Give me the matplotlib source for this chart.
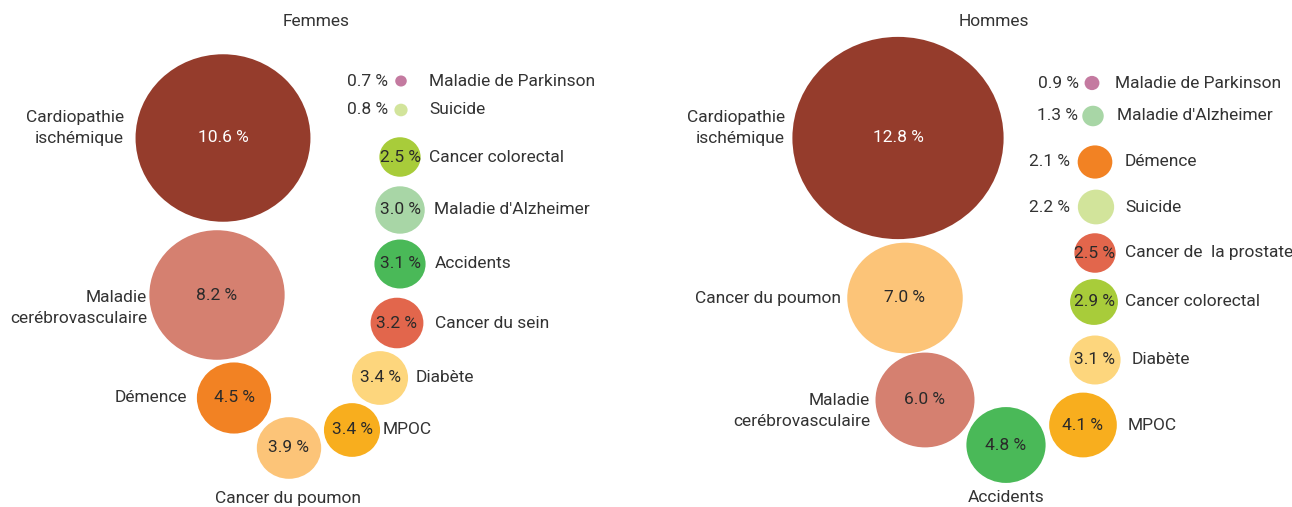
import matplotlib
matplotlib.use("Agg")
import matplotlib.pyplot as plt
from matplotlib.patches import Ellipse

plt.rcParams["font.family"] = ["Roboto", "DejaVu Sans"]

# Data: share of deaths (%) by cause
f_causes = ["Cardiopathie ischémique", "Maladie cerébrovasculaire", "Démence",
            "Cancer du poumon", "MPOC", "Diabète", "Cancer du sein", "Accidents",
            "Maladie d'Alzheimer", "Cancer colorectal", "Suicide", "Maladie de Parkinson"]
f_values = [10.6, 8.2, 4.5, 3.9, 3.4, 3.4, 3.2, 3.1, 3.0, 2.5, 0.8, 0.7]

h_causes = ["Cardiopathie ischémique", "Cancer du poumon", "Maladie cerébrovasculaire",
            "Accidents", "MPOC", "Diabète", "Cancer colorectal", "Cancer de la prostate",
            "Suicide", "Démence", "Maladie d'Alzheimer", "Maladie de Parkinson"]
h_values = [12.8, 7.0, 6.0, 4.8, 4.1, 3.1, 2.9, 2.5, 2.2, 2.1, 1.3, 0.9]

# display names (line breaks / spacing as in the original)
names = {
    "Cardiopathie ischémique": "Cardiopathie\nischémique",
    "Maladie cerébrovasculaire": "Maladie\ncerébrovasculaire",
    "Cancer de la prostate": "Cancer de  la prostate",
}

colors = {
    "Cardiopathie ischémique": "#953C2C",
    "Maladie cerébrovasculaire": "#D58070",
    "Démence": "#F28223",
    "Cancer du poumon": "#FCC478",
    "MPOC": "#F8AE1E",
    "Diabète": "#FDD67D",
    "Cancer du sein": "#E2664C",
    "Cancer de la prostate": "#E2664C",
    "Accidents": "#4AB958",
    "Maladie d'Alzheimer": "#A8D6A6",
    "Cancer colorectal": "#A8CC3A",
    "Suicide": "#D2E49B",
    "Maladie de Parkinson": "#C47AA0",
}

# layout (panel pixel coords): bubble centres
f_centers = [(223, 138), (217, 295), (234, 398), (289, 448), (352, 430), (380, 378),
             (397, 323), (400, 264), (400, 210), (400, 157), (401, 110), (401, 81)]
h_centers = [(252, 138), (259, 298), (279, 400), (360, 445), (437, 425), (449, 360),
             (448, 302), (449, 253), (450, 207), (449, 162), (447, 116), (446, 83)]

# name label anchors (x, y, ha)
f_name_pos = [(124, 128, "right"), (147, 308, "right"), (187, 398, "right"),
              (288, 499, "center"), (383, 430, "left"), (416, 378, "left"),
              (435, 323, "left"), (435, 264, "left"), (434, 210, "left"),
              (429, 157, "left"), (429, 110, "left"), (429, 81, "left")]
h_name_pos = [(139, 128, "right"), (195, 299, "right"), (224, 411, "right"),
              (360, 498, "center"), (482, 425, "left"), (486, 360, "left"),
              (479, 302, "left"), (479, 253, "left"), (479, 207, "left"),
              (479, 162, "left"), (471, 116, "left"), (469, 83, "left")]

# value labels placed outside (left of bubble) for small bubbles: index -> x
f_value_out = {10: 388, 11: 388}
h_value_out = {8: 424, 9: 424, 10: 432, 11: 433}

PX_W = 16.5  # bubble width (px) per %
PX_H = 15.8  # bubble height (px) per %
TEXT = "#333333"
FS = 12.5

fig = plt.figure(figsize=(12.92, 5.07), dpi=100)


def draw_panel(ax, title, title_x, causes, values, centers, name_pos, value_out):
    ax.set_xlim(0, 646)
    ax.set_ylim(507, 0)
    ax.axis("off")
    ax.text(title_x, 22, title, ha="center", va="center", fontsize=FS, color=TEXT)
    for i, (cause, v) in enumerate(zip(causes, values)):
        cx, cy = centers[i]
        ax.add_patch(Ellipse((cx, cy), PX_W * v, PX_H * v,
                             facecolor=colors[cause], edgecolor="none"))
        label = f"{v:.1f} %"
        if i in value_out:
            ax.text(value_out[i], cy, label, ha="right", va="center",
                    fontsize=FS, color=TEXT)
        else:
            col = "white" if i == 0 else "#2a2a2a"
            ax.text(cx, cy, label, ha="center", va="center", fontsize=FS, color=col)
        nx, ny, ha = name_pos[i]
        ax.text(nx, ny, names.get(cause, cause), ha=ha, va="center",
                multialignment="right" if ha == "right" else ha,
                fontsize=FS, color=TEXT, linespacing=1.45)


ax1 = fig.add_axes([0, 0, 0.5, 1])
ax2 = fig.add_axes([0.5, 0, 0.5, 1])
draw_panel(ax1, "Femmes", 316, f_causes, f_values, f_centers, f_name_pos, f_value_out)
draw_panel(ax2, "Hommes", 348, h_causes, h_values, h_centers, h_name_pos, h_value_out)

fig.savefig("out.png", dpi=100, facecolor="white")
